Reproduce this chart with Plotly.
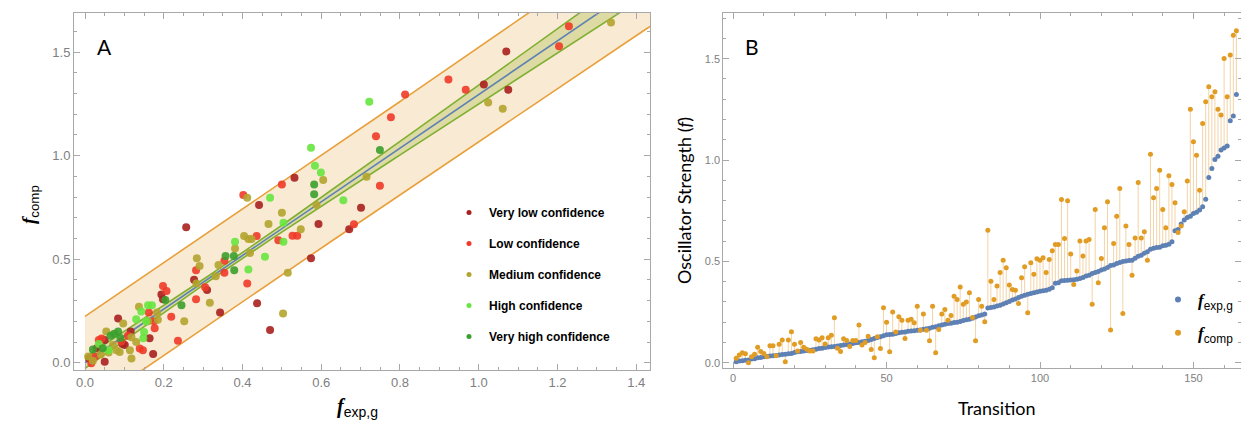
import numpy as np
import plotly.graph_objects as go

# ---------------- Panel A data (f_exp,g , f_comp) by confidence ----------------
vlow_exp = [1.070, 1.013, 1.075, 0.532, 0.442, 0.701, 0.257, 0.593, 0.671, 0.574, 0.277, 0.310,
            0.194, 0.198, 0.343, 0.437, 0.470, 0.084, 0.164, 0.116, 0.101, 0.173, 0.050, 0.050,
            0.010, 0.030, 0.095]
vlow_comp = [1.503, 1.343, 1.318, 0.893, 0.761, 0.748, 0.654, 0.670, 0.644, 0.504, 0.401, 0.351,
             0.330, 0.306, 0.243, 0.287, 0.158, 0.214, 0.118, 0.151, 0.086, 0.042, 0.110, 0.005,
             0.020, 0.070, 0.090]

low_exp = [1.229, 1.204, 0.923, 0.967, 0.813, 0.777, 0.739, 0.749, 0.500, 0.402, 0.683, 0.436,
           0.491, 0.527, 0.539, 0.354, 0.354, 0.412, 0.282, 0.305, 0.198, 0.207, 0.282, 0.219,
           0.236, 0.162, 0.177, 0.175, 0.109, 0.092, 0.042, 0.139, 0.147, 0.025, 0.016, 0.035]
low_comp = [1.624, 1.528, 1.367, 1.318, 1.295, 1.185, 1.094, 0.855, 0.861, 0.810, 0.669, 0.612,
            0.592, 0.613, 0.613, 0.493, 0.434, 0.383, 0.447, 0.365, 0.370, 0.346, 0.306, 0.222,
            0.106, 0.242, 0.166, 0.200, 0.130, 0.102, 0.117, 0.069, 0.060, 0.030, -0.003, 0.110]

med_exp = [1.336, 1.024, 1.061, 0.605, 0.715, 0.412, 0.588, 0.500, 0.466, 0.548, 0.404, 0.415,
           0.423, 0.381, 0.419, 0.284, 0.291, 0.339, 0.332, 0.515, 0.283, 0.317, 0.252, 0.503,
           0.137, 0.183, 0.097, 0.185, 0.160, 0.118, 0.054, 0.071, 0.080, 0.088, 0.114, 0.118,
           0.008, 0.020, 0.060, 0.130, 0.040]
med_comp = [1.643, 1.257, 1.226, 0.882, 0.898, 0.797, 0.761, 0.724, 0.670, 0.644, 0.612, 0.597,
            0.597, 0.552, 0.530, 0.504, 0.467, 0.472, 0.418, 0.434, 0.383, 0.290, 0.200, 0.238,
            0.270, 0.242, 0.190, 0.207, 0.200, 0.123, 0.151, 0.086, 0.060, 0.052, 0.060, 0.020,
            0.030, 0.010, 0.050, 0.100, 0.040]

high_exp = [0.722, 0.574, 0.584, 0.599, 0.470, 0.656, 0.504, 0.381, 0.504, 0.457, 0.415, 0.160,
            0.170, 0.143, 0.150, 0.148, 0.035, 0.155, 0.130, 0.060]
high_comp = [1.260, 1.038, 0.951, 0.919, 0.797, 0.785, 0.676, 0.584, 0.584, 0.512, 0.450, 0.278,
             0.278, 0.247, 0.148, 0.118, 0.090, 0.200, 0.210, 0.060]

vhigh_exp = [0.749, 0.582, 0.582, 0.357, 0.378, 0.379, 0.245, 0.204, 0.084, 0.074, 0.065, 0.020,
             0.090, 0.045]
vhigh_comp = [1.027, 0.861, 0.813, 0.515, 0.515, 0.447, 0.278, 0.303, 0.151, 0.140, 0.130, 0.064,
              0.120, 0.070]

confidence_labels = ["Very low confidence", "Low confidence", "Medium confidence",
                     "High confidence", "Very high confidence"]

# regression fit parameters
FIT_SLOPE = 1.295
FIT_INTERCEPT = 0.0
PRED_HALF = 0.223
CONF_HALF_MIN = 0.013
CONF_SPREAD = 0.067
FIT_XMEAN = 0.35

# ---------------- Panel B data ----------------
f_exp_g = [0.005, 0.008, 0.010, 0.012, 0.014, 0.018, 0.020, 0.024, 0.026, 0.030,
           0.031, 0.033, 0.034, 0.036, 0.038, 0.040, 0.042, 0.044, 0.046, 0.050,
           0.054, 0.056, 0.058, 0.060, 0.062, 0.064, 0.066, 0.070, 0.072, 0.075,
           0.077, 0.079, 0.080, 0.082, 0.085, 0.088, 0.090, 0.092, 0.095, 0.098,
           0.100, 0.103, 0.106, 0.110, 0.115, 0.120, 0.124, 0.128, 0.133, 0.138,
           0.139, 0.141, 0.144, 0.148, 0.150, 0.152, 0.155, 0.157, 0.158, 0.160,
           0.162, 0.165, 0.168, 0.170, 0.175, 0.178, 0.182, 0.186, 0.190, 0.193,
           0.195, 0.198, 0.200, 0.204, 0.208, 0.212, 0.215, 0.220, 0.226, 0.232,
           0.236, 0.240, 0.270, 0.272, 0.275, 0.280, 0.284, 0.290, 0.296, 0.302,
           0.310, 0.315, 0.322, 0.328, 0.333, 0.338, 0.342, 0.345, 0.349, 0.353,
           0.355, 0.358, 0.362, 0.370, 0.392, 0.395, 0.405, 0.406, 0.407, 0.408,
           0.410, 0.412, 0.416, 0.420, 0.428, 0.432, 0.440, 0.445, 0.450, 0.457,
           0.462, 0.470, 0.480, 0.482, 0.490, 0.495, 0.500, 0.502, 0.504, 0.506,
           0.515, 0.525, 0.530, 0.540, 0.547, 0.560, 0.565, 0.568, 0.570, 0.577,
           0.580, 0.585, 0.597, 0.651, 0.657, 0.684, 0.704, 0.717, 0.723, 0.736,
           0.743, 0.753, 0.769, 0.806, 0.914, 0.958, 1.003, 1.019, 1.049, 1.060,
           1.069, 1.194, 1.217, 1.323]
f_comp = [0.022, 0.038, 0.049, 0.044, 0.000, 0.030, 0.042, 0.076, 0.055, 0.046,
          0.030, 0.084, 0.084, 0.035, 0.091, 0.112, 0.005, 0.112, 0.153, 0.091,
          0.058, 0.100, 0.076, 0.066, 0.058, 0.058, 0.118, 0.112, 0.123, 0.092,
          0.123, 0.136, 0.222, 0.071, 0.055, 0.118, 0.110, 0.080, 0.110, 0.110,
          0.186, 0.087, 0.100, 0.131, 0.065, 0.024, 0.128, 0.070, 0.271, 0.200,
          0.054, 0.250, 0.152, 0.227, 0.210, 0.120, 0.210, 0.215, 0.197, 0.279,
          0.160, 0.240, 0.160, 0.108, 0.279, 0.049, 0.164, 0.240, 0.263, 0.210,
          0.233, 0.328, 0.312, 0.374, 0.289, 0.300, 0.345, 0.223, 0.108, 0.312,
          0.279, 0.202, 0.654, 0.402, 0.312, 0.378, 0.445, 0.506, 0.468, 0.383,
          0.361, 0.358, 0.292, 0.419, 0.473, 0.246, 0.493, 0.437, 0.513, 0.506,
          0.518, 0.445, 0.509, 0.552, 0.583, 0.583, 0.805, 0.613, 0.799, 0.536,
          0.386, 0.452, 0.600, 0.527, 0.601, 0.608, 0.289, 0.756, 0.394, 0.514,
          0.666, 0.794, 0.161, 0.588, 0.723, 0.860, 0.243, 0.674, 0.583, 0.432,
          0.616, 0.889, 0.616, 0.646, 0.506, 1.029, 0.814, 0.860, 0.950, 0.756,
          0.666, 0.922, 0.879, 0.789, 0.643, 0.674, 0.745, 0.896, 1.251, 1.090,
          1.024, 0.851, 1.180, 1.287, 1.361, 1.312, 1.337, 1.251, 1.222, 1.501,
          1.312, 1.518, 1.616, 1.638]
transition = list(range(1, len(f_exp_g) + 1))

# ---------------- styles ----------------
C_VLOW = "rgb(168,32,30)"
C_LOW = "rgb(240,58,40)"
C_MED = "rgb(178,164,46)"
C_HIGH = "rgb(102,230,62)"
C_VHIGH = "rgb(58,160,44)"
C_BLUE = "rgb(94,129,181)"
C_ORANGE = "rgb(225,156,36)"

fig = go.Figure()

# ----- Panel A bands -----
xb = np.linspace(0.0, 1.46, 120)
yfit = FIT_INTERCEPT + FIT_SLOPE * xb
pred_hw = np.sqrt(PRED_HALF**2 + (CONF_SPREAD * (xb - FIT_XMEAN))**2)
conf_hw = np.sqrt(CONF_HALF_MIN**2 + (CONF_SPREAD * (xb - FIT_XMEAN))**2)

fig.add_trace(go.Scatter(x=xb, y=yfit - pred_hw, mode="lines", line=dict(color="rgb(232,160,60)", width=1.6),
                         showlegend=False, hoverinfo="skip", xaxis="x", yaxis="y"))
fig.add_trace(go.Scatter(x=xb, y=yfit + pred_hw, mode="lines", line=dict(color="rgb(232,160,60)", width=1.6),
                         fill="tonexty", fillcolor="rgba(240,205,150,0.42)",
                         showlegend=False, hoverinfo="skip", xaxis="x", yaxis="y"))
fig.add_trace(go.Scatter(x=xb, y=yfit - conf_hw, mode="lines", line=dict(color="rgb(128,176,50)", width=1.6),
                         showlegend=False, hoverinfo="skip", xaxis="x", yaxis="y"))
fig.add_trace(go.Scatter(x=xb, y=yfit + conf_hw, mode="lines", line=dict(color="rgb(128,176,50)", width=1.6),
                         fill="tonexty", fillcolor="rgba(150,175,40,0.28)",
                         showlegend=False, hoverinfo="skip", xaxis="x", yaxis="y"))
fig.add_trace(go.Scatter(x=xb, y=yfit, mode="lines", line=dict(color=C_BLUE, width=1.6),
                         showlegend=False, hoverinfo="skip", xaxis="x", yaxis="y"))

groups = [(vlow_exp, vlow_comp, C_VLOW), (low_exp, low_comp, C_LOW), (med_exp, med_comp, C_MED),
          (high_exp, high_comp, C_HIGH), (vhigh_exp, vhigh_comp, C_VHIGH)]
for (gx, gy, col), lab in zip(groups, confidence_labels):
    fig.add_trace(go.Scatter(x=gx, y=gy, mode="markers", marker=dict(size=8, color=col, opacity=0.9),
                             showlegend=False, name=lab, xaxis="x", yaxis="y"))
for (gx, gy, col), lab in zip(groups, confidence_labels):
    fig.add_trace(go.Scatter(x=[None], y=[None], mode="markers", marker=dict(size=5, color=col),
                             name=lab, legend="legend", legendgroup=lab, xaxis="x", yaxis="y"))

# ----- Panel B -----
stem_x, stem_y = [], []
for t, a, b in zip(transition, f_exp_g, f_comp):
    stem_x += [t, t, None]
    stem_y += [a, b, None]
fig.add_trace(go.Scatter(x=stem_x, y=stem_y, mode="lines", line=dict(color="rgba(232,170,80,0.5)", width=1),
                         showlegend=False, hoverinfo="skip", xaxis="x2", yaxis="y2"))
fig.add_trace(go.Scatter(x=transition, y=f_exp_g, mode="markers", marker=dict(size=5, color=C_BLUE),
                         showlegend=False, xaxis="x2", yaxis="y2"))
fig.add_trace(go.Scatter(x=transition, y=f_comp, mode="markers", marker=dict(size=5, color=C_ORANGE),
                         showlegend=False, xaxis="x2", yaxis="y2"))
SUBF = '<span style="font-family:Liberation Sans">'
fig.add_trace(go.Scatter(x=[None], y=[None], mode="markers", marker=dict(size=6, color=C_BLUE),
                         name="<i><b>f</b></i>" + SUBF + "<sub>exp,g</sub></span>",
                         legend="legend2", legendgroup="b1", xaxis="x2", yaxis="y2"))
fig.add_trace(go.Scatter(x=[None], y=[None], mode="markers", marker=dict(size=6, color=C_ORANGE),
                         name="<i><b>f</b></i>" + SUBF + "<sub>comp</sub></span>",
                         legend="legend2", legendgroup="b2", xaxis="x2", yaxis="y2"))

W, H = 1241, 423
def px(x):
    return x / W
def py(y):
    return 1 - y / H

frame = dict(showgrid=False, zeroline=False, showline=True, linecolor="#A8A8A8", linewidth=1,
             mirror="allticks", ticks="inside", ticklen=6, tickcolor="#A8A8A8", tickwidth=1)

fig.update_layout(
    width=W, height=H, margin=dict(l=0, r=0, t=0, b=0),
    paper_bgcolor="white", plot_bgcolor="white",
    xaxis=dict(**frame, domain=[px(74), px(650)], range=[-0.028, 1.435], tick0=0, dtick=0.2,
               tickformat=".1f", tickfont=dict(family="Liberation Sans", size=13, color="#808080"),
               minor=dict(ticks="inside", ticklen=3, dtick=0.05, tickcolor="#A8A8A8"), anchor="y"),
    yaxis=dict(**frame, domain=[py(370), py(12.7)], range=[-0.035, 1.69], tick0=0, dtick=0.5,
               tickformat=".1f", tickfont=dict(family="Liberation Sans", size=13, color="#808080"),
               minor=dict(ticks="inside", ticklen=3, dtick=0.1, tickcolor="#A8A8A8"), anchor="x"),
    xaxis2=dict(**frame, domain=[px(723.3), 1.0], range=[-3.2, 165.5], tick0=0, dtick=50,
                tickfont=dict(family="Liberation Sans", size=11, color="#808080"),
                minor=dict(ticks="inside", ticklen=3, dtick=10, tickcolor="#A8A8A8"), anchor="y2"),
    yaxis2=dict(**frame, domain=[py(368), py(13.3)], range=[-0.026, 1.724], tick0=0, dtick=0.5,
                tickformat=".1f", tickfont=dict(family="Liberation Sans", size=11, color="#808080"),
                minor=dict(ticks="inside", ticklen=3, dtick=0.1, tickcolor="#A8A8A8"), anchor="x2"),
    legend=dict(x=px(449), y=py(198), xanchor="left", yanchor="top", bgcolor="rgba(0,0,0,0)",
                font=dict(family="Liberation Sans", size=12, color="black", weight="bold"),
                tracegroupgap=12, traceorder="grouped"),
    legend2=dict(x=px(1158), y=py(282), xanchor="left", yanchor="top", bgcolor="rgba(0,0,0,0)",
                 font=dict(family="Liberation Serif", size=17, color="black"),
                 tracegroupgap=8, traceorder="grouped"),
    showlegend=True,
)

ann = []
ann.append(dict(x=px(104), y=py(46), text="A", font=dict(family="Lato", size=21, color="black")))
ann.append(dict(x=px(752), y=py(46), text="B", font=dict(family="Lato", size=21, color="black")))
ann.append(dict(x=px(357), y=py(407), text="<i><b>f</b></i>" + SUBF + "<sub>exp,g</sub></span>",
                font=dict(family="Liberation Serif", size=20, color="black")))
ann.append(dict(x=px(30), y=py(205), text="<i><b>f</b></i>" + SUBF + "<sub>comp</sub></span>", textangle=-90,
                font=dict(family="Liberation Serif", size=19, color="black")))
ann.append(dict(x=px(684), y=py(201), text="Oscillator Strength (<i>f</i>)", textangle=-90,
                font=dict(family="Lato", size=18, color="black")))
ann.append(dict(x=px(997), y=py(408), text="Transition", font=dict(family="Lato", size=18, color="black")))
for a in ann:
    a.update(xref="paper", yref="paper", showarrow=False, xanchor="center", yanchor="middle")
fig.update_layout(annotations=ann)

fig.write_html("out.html", config={"displayModeBar": False},
               post_script="document.body.style.margin='0';document.body.style.overflow='hidden';")
